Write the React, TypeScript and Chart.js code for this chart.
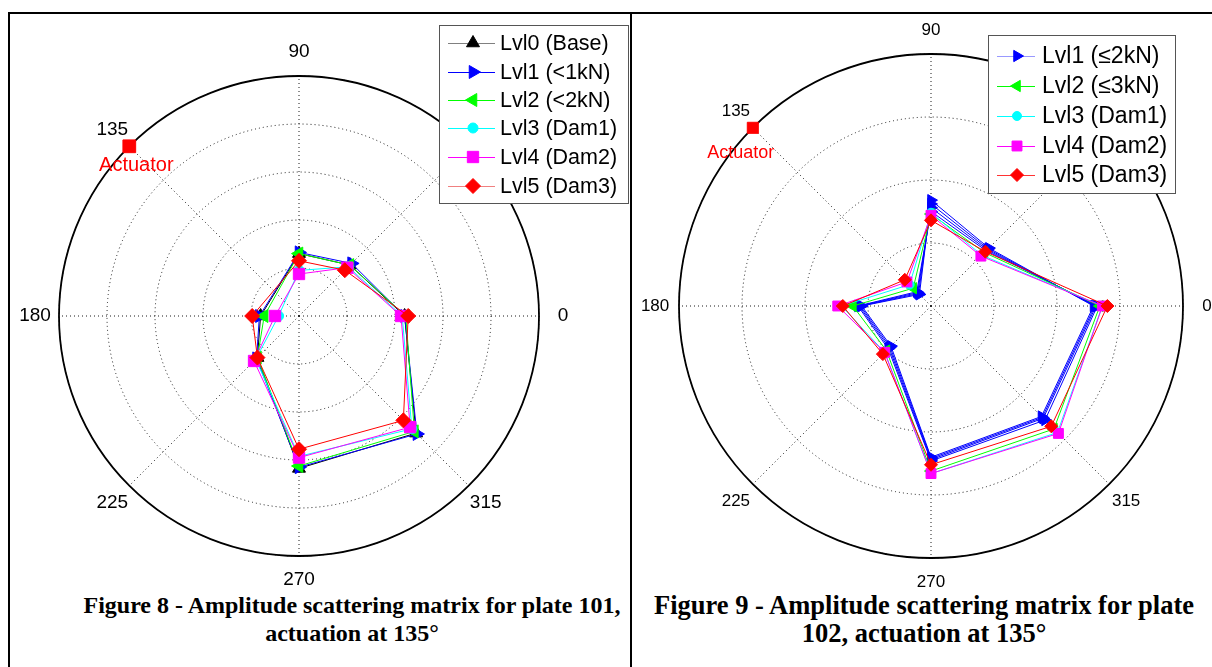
import React, { useEffect, useRef } from 'react';
import { Chart, registerables } from 'chart.js';

Chart.register(...registerables);

// Angle labels in the order the radar scale walks them (clockwise from the top)
const ANGLE_LABELS = ['90', '45', '0', '315', '270', '225', '180', '135'];
const ACTUATOR_ANGLE = '135';

// ---- Figure 8: plate 101 (amplitude, fraction of outer ring; no reading at 135°) ----
const P101_NAMES = ['Lvl0 (Base)', 'Lvl1 (<1kN)', 'Lvl2 (<2kN)', 'Lvl3 (Dam1)', 'Lvl4 (Dam2)', 'Lvl5 (Dam3)'];
const P101_LVL0 = [0.26, 0.3, 0.44, 0.69, 0.635, 0.245, 0.16, null];
const P101_LVL1 = [0.265, 0.31, 0.44, 0.695, 0.63, 0.25, 0.165, null];
const P101_LVL2 = [0.26, 0.3, 0.445, 0.68, 0.625, 0.245, 0.145, null];
const P101_LVL3 = [0.19, 0.29, 0.43, 0.665, 0.585, 0.255, 0.085, null];
const P101_LVL4 = [0.175, 0.285, 0.425, 0.655, 0.59, 0.265, 0.1, null];
const P101_LVL5 = [0.23, 0.27, 0.455, 0.615, 0.555, 0.245, 0.195, null];

// ---- Figure 9: plate 102 ----
const P102_NAMES = ['Lvl1 (\u22642kN)', 'Lvl2 (\u22643kN)', 'Lvl3 (Dam1)', 'Lvl4 (Dam2)', 'Lvl5 (Dam3)'];
const P102_LVL1_A = [0.42, 0.325, 0.645, 0.62, 0.6, 0.225, 0.275, 0.065];
const P102_LVL1_B = [0.405, 0.32, 0.65, 0.625, 0.605, 0.23, 0.28, 0.07];
const P102_LVL1_C = [0.39, 0.315, 0.655, 0.63, 0.61, 0.235, 0.285, 0.075];
const P102_LVL1_D = [0.375, 0.31, 0.66, 0.64, 0.615, 0.24, 0.29, 0.08];
const P102_LVL2 = [0.365, 0.3, 0.67, 0.69, 0.655, 0.25, 0.31, 0.1];
const P102_LVL3 = [0.37, 0.285, 0.68, 0.71, 0.665, 0.26, 0.355, 0.12];
const P102_LVL4 = [0.36, 0.28, 0.68, 0.715, 0.665, 0.26, 0.37, 0.135];
const P102_LVL5 = [0.34, 0.305, 0.7, 0.675, 0.63, 0.27, 0.35, 0.147];

type Marker = { style: string; rotation: number; radius: number };

type Series = { name: string; color: string; legendLine: string; marker: Marker; data: (number | null)[][] };

function drawMarker(ctx: CanvasRenderingContext2D, m: Marker, x: number, y: number, color: string) {
  ctx.save();
  ctx.fillStyle = color;
  ctx.strokeStyle = color;
  ctx.lineWidth = 1;
  ctx.setLineDash([]);
  ctx.beginPath();
  const r = m.radius;
  if (m.style === 'circle') {
    ctx.arc(x, y, r, 0, Math.PI * 2);
  } else if (m.style === 'rect') {
    const s = r * Math.SQRT1_2;
    ctx.rect(x - s, y - s, 2 * s, 2 * s);
  } else if (m.style === 'rectRot') {
    ctx.moveTo(x, y - r);
    ctx.lineTo(x + r, y);
    ctx.lineTo(x, y + r);
    ctx.lineTo(x - r, y);
    ctx.closePath();
  } else {
    let rad = (m.rotation * Math.PI) / 180;
    ctx.moveTo(x + Math.sin(rad) * r, y - Math.cos(rad) * r);
    rad += (2 * Math.PI) / 3;
    ctx.lineTo(x + Math.sin(rad) * r, y - Math.cos(rad) * r);
    rad += (2 * Math.PI) / 3;
    ctx.lineTo(x + Math.sin(rad) * r, y - Math.cos(rad) * r);
    ctx.closePath();
  }
  ctx.fill();
  ctx.stroke();
  ctx.restore();
}

type PanelCfg = {
  left: number;
  top: number;
  width: number;
  height: number;
  padding: { left: number; top: number; right: number; bottom: number };
  stepSize: number;
  series: Series[];
  labelFont: number;
  labelDist: number;
  actuatorRadius: number;
  actuatorText: { dx: number; dy: number; size: number };
  legend: { x: number; y: number; w: number; h: number; rows: number[]; lineX1: number; lineX2: number; markerX: number; textX: number; font: number };
};

function PolarPanel({ cfg }: { cfg: PanelCfg }) {
  const ref = useRef<HTMLCanvasElement | null>(null);
  useEffect(() => {
    if (!ref.current) return;
    const datasets: any[] = [];
    const total = cfg.series.reduce((a, s) => a + s.data.length, 0) + 1;
    let orderCounter = total;
    cfg.series.forEach((s) => {
      s.data.forEach((d) => {
        datasets.push({
          label: s.name,
          data: d,
          borderColor: s.color,
          backgroundColor: s.color,
          borderWidth: 1,
          fill: false,
          spanGaps: true,
          pointStyle: s.marker.style,
          pointRotation: s.marker.rotation,
          pointRadius: s.marker.radius,
          pointBackgroundColor: s.color,
          pointBorderColor: s.color,
          pointBorderWidth: 1,
          order: orderCounter--,
        });
      });
    });
    const actuatorIndex = datasets.length;
    datasets.push({
      label: 'Actuator',
      data: ANGLE_LABELS.map((l) => (l === ACTUATOR_ANGLE ? 1 : null)),
      showLine: false,
      pointStyle: 'rect',
      pointRadius: cfg.actuatorRadius,
      pointBackgroundColor: '#ff0000',
      pointBorderColor: '#ff0000',
      pointBorderWidth: 1,
      order: 0,
    });

    const overlay = {
      id: 'overlay',
      beforeDatasetsDraw(chart: any) {
        const s = chart.scales.r;
        const ctx = chart.ctx as CanvasRenderingContext2D;
        ctx.save();
        ctx.setLineDash([]);
        ctx.beginPath();
        ctx.arc(s.xCenter, s.yCenter, s.drawingArea, 0, Math.PI * 2);
        ctx.strokeStyle = '#000';
        ctx.lineWidth = 1.8;
        ctx.stroke();
        ctx.restore();
      },
      afterDraw(chart: any) {
        const s = chart.scales.r;
        const ctx = chart.ctx as CanvasRenderingContext2D;
        ctx.save();
        ctx.fillStyle = '#000';
        ctx.font = `${cfg.labelFont}px "Liberation Sans", Arial, sans-serif`;
        ctx.textAlign = 'center';
        ctx.textBaseline = 'middle';
        ANGLE_LABELS.forEach((lab, i) => {
          const p = s.getPointPosition(i, s.drawingArea * cfg.labelDist);
          ctx.fillText(lab, p.x, p.y);
        });
        const meta = chart.getDatasetMeta(actuatorIndex);
        const ai = ANGLE_LABELS.indexOf(ACTUATOR_ANGLE);
        const pt = meta.data[ai];
        if (pt) {
          ctx.fillStyle = '#ff0000';
          ctx.font = `${cfg.actuatorText.size}px "Liberation Sans", Arial, sans-serif`;
          ctx.fillText('Actuator', pt.x + cfg.actuatorText.dx, pt.y + cfg.actuatorText.dy);
        }
        // legend
        const L = cfg.legend;
        ctx.fillStyle = '#fff';
        ctx.fillRect(L.x, L.y, L.w, L.h);
        ctx.strokeStyle = '#555';
        ctx.lineWidth = 1;
        ctx.setLineDash([]);
        ctx.strokeRect(L.x + 0.5, L.y + 0.5, L.w, L.h);
        ctx.font = `${L.font}px "Liberation Sans", Arial, sans-serif`;
        ctx.textAlign = 'left';
        cfg.series.forEach((ser, i) => {
          const y = L.rows[i];
          ctx.strokeStyle = ser.legendLine;
          ctx.lineWidth = 1.2;
          ctx.beginPath();
          ctx.moveTo(L.lineX1, y + 0.5);
          ctx.lineTo(L.lineX2, y + 0.5);
          ctx.stroke();
          drawMarker(ctx, ser.marker, L.markerX, y, ser.color);
          ctx.fillStyle = '#000';
          ctx.fillText(ser.name, L.textX, y + 1);
        });
        ctx.restore();
      },
    };

    const chart = new Chart(ref.current, {
      type: 'radar',
      data: { labels: ANGLE_LABELS, datasets },
      options: {
        animation: false,
        responsive: false,
        maintainAspectRatio: false,
        layout: { padding: cfg.padding },
        plugins: { legend: { display: false }, tooltip: { enabled: false } },
        elements: { line: { tension: 0, borderWidth: 1 } },
        scales: {
          r: {
            min: 0,
            max: 1,
            ticks: { display: false, stepSize: cfg.stepSize },
            grid: { circular: true, color: '#1a1a1a', lineWidth: 1 },
            border: { dash: [1, 3] },
            angleLines: { display: true, color: '#1a1a1a', lineWidth: 1, borderDash: [1, 3] },
            pointLabels: { display: false },
          },
        },
      } as any,
      plugins: [overlay],
    });
    return () => chart.destroy();
  }, [cfg]);
  return (
    <canvas
      ref={ref}
      width={cfg.width}
      height={cfg.height}
      style={{ position: 'absolute', left: cfg.left, top: cfg.top, width: cfg.width, height: cfg.height }}
    />
  );
}

const LEFT_CFG: PanelCfg = {
  left: 9,
  top: 14,
  width: 621,
  height: 590,
  padding: { left: 50, top: 62, right: 91, bottom: 48 },
  stepSize: 0.2,
  labelFont: 19,
  labelDist: 1.1,
  actuatorRadius: 9,
  actuatorText: { dx: 7, dy: 19, size: 20 },
  series: [
    { name: P101_NAMES[0], color: '#000000', legendLine: '#808080', marker: { style: 'triangle', rotation: 0, radius: 7.5 }, data: [P101_LVL0] },
    { name: P101_NAMES[1], color: '#0000ff', legendLine: '#0000ff', marker: { style: 'triangle', rotation: 90, radius: 7.5 }, data: [P101_LVL1] },
    { name: P101_NAMES[2], color: '#00ff00', legendLine: '#00ff00', marker: { style: 'triangle', rotation: -90, radius: 7.5 }, data: [P101_LVL2] },
    { name: P101_NAMES[3], color: '#00ffff', legendLine: '#00ffff', marker: { style: 'circle', rotation: 0, radius: 5 }, data: [P101_LVL3] },
    { name: P101_NAMES[4], color: '#ff00ff', legendLine: '#ff00ff', marker: { style: 'rect', rotation: 0, radius: 8 }, data: [P101_LVL4] },
    { name: P101_NAMES[5], color: '#ff0000', legendLine: '#f08080', marker: { style: 'rectRot', rotation: 0, radius: 7.5 }, data: [P101_LVL5] },
  ],
  legend: { x: 430, y: 11, w: 189, h: 178, rows: [29, 58, 86, 114, 143, 172], lineX1: 439, lineX2: 486, markerX: 464, textX: 491, font: 21.5 },
};

const RIGHT_CFG: PanelCfg = {
  left: 633,
  top: 14,
  width: 579,
  height: 590,
  padding: { left: 46, top: 40, right: 29, bottom: 46 },
  stepSize: 0.25,
  labelFont: 17,
  labelDist: 1.095,
  actuatorRadius: 7.8,
  actuatorText: { dx: -12, dy: 25, size: 18 },
  series: [
    { name: P102_NAMES[0], color: '#0000ff', legendLine: '#9999ff', marker: { style: 'triangle', rotation: 90, radius: 6.5 }, data: [P102_LVL1_A, P102_LVL1_B, P102_LVL1_C, P102_LVL1_D] },
    { name: P102_NAMES[1], color: '#00ff00', legendLine: '#00ff00', marker: { style: 'triangle', rotation: -90, radius: 6.5 }, data: [P102_LVL2] },
    { name: P102_NAMES[2], color: '#00ffff', legendLine: '#00ffff', marker: { style: 'circle', rotation: 0, radius: 4.5 }, data: [P102_LVL3] },
    { name: P102_NAMES[3], color: '#ff00ff', legendLine: '#ff00ff', marker: { style: 'rect', rotation: 0, radius: 7 }, data: [P102_LVL4] },
    { name: P102_NAMES[4], color: '#ff0000', legendLine: '#ff3333', marker: { style: 'rectRot', rotation: 0, radius: 6.5 }, data: [P102_LVL5] },
  ],
  legend: { x: 355, y: 21, w: 187, h: 158, rows: [42, 72, 102, 132, 161], lineX1: 364, lineX2: 402, markerX: 384, textX: 409, font: 23 },
};

const captionStyle: React.CSSProperties = {
  position: 'absolute',
  fontFamily: '"Liberation Serif", "Times New Roman", serif',
  fontWeight: 'bold',
  lineHeight: '28px',
  textAlign: 'center',
  whiteSpace: 'nowrap',
  color: '#000',
};

export default function App() {
  return (
    <div style={{ position: 'absolute', left: 0, top: 0, width: 1212, height: 667, background: '#fff', overflow: 'hidden' }}>
      {/* table borders */}
      <div style={{ position: 'absolute', left: 8, top: 12, width: 1204, height: 2, background: '#000' }} />
      <div style={{ position: 'absolute', left: 8, top: 12, width: 2, height: 655, background: '#000' }} />
      <div style={{ position: 'absolute', left: 630, top: 12, width: 2, height: 655, background: '#000' }} />
      {/* captions */}
      <div style={{ ...captionStyle, fontSize: 24, left: 52, width: 600, top: 591 }}>
        <div>Figure 8 - Amplitude scattering matrix for plate 101,</div>
        <div>actuation at 135°</div>
      </div>
      <div style={{ ...captionStyle, fontSize: 26.5, left: 624, width: 600, top: 591 }}>
        <div>Figure 9 - Amplitude scattering matrix for plate</div>
        <div>102, actuation at 135°</div>
      </div>
      <PolarPanel cfg={LEFT_CFG} />
      <PolarPanel cfg={RIGHT_CFG} />
    </div>
  );
}
